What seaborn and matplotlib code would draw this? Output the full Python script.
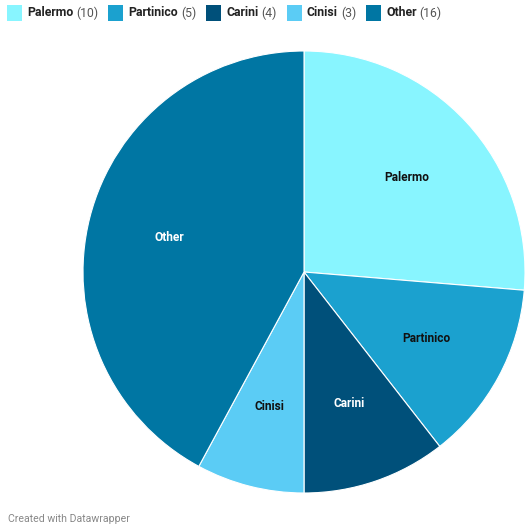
import matplotlib
matplotlib.use("Agg")
import matplotlib.pyplot as plt
from matplotlib.patches import Rectangle
import seaborn as sns

categories = ["Palermo", "Partinico", "Carini", "Cinisi", "Other"]
counts = [10, 5, 4, 3, 16]
colors = ["#88F5FF", "#1BA1CF", "#00507A", "#5BCCF5", "#0076A3"]
label_colors = ["#111111", "#111111", "#ffffff", "#111111", "#ffffff"]

sns.set_style("white")
plt.rcParams["font.family"] = ["Roboto", "DejaVu Sans"]

W, H = 525, 528
fig = plt.figure(figsize=(W / 100, H / 100), dpi=100)
palette = sns.color_palette(colors)

# pie area: centre (304, 272) px from top-left, radius 221 px
cx, cy, r = 304, 272, 221
ax = fig.add_axes([(cx - r) / W, (H - cy - r) / H, 2 * r / W, 2 * r / H])
wedges, texts = ax.pie(
    counts, colors=palette, startangle=90, counterclock=False,
    labels=categories, labeldistance=0.63,
    wedgeprops=dict(edgecolor="white", linewidth=0.8),
    textprops=dict(fontsize=8.6, fontweight="bold", ha="center", va="center"),
)
for t, c in zip(texts, label_colors):
    t.set_color(c)
    t.set_horizontalalignment("center")
ax.set_aspect("equal")
ax.set_xlim(-1, 1)
ax.set_ylim(-1, 1)
ax.axis("off")

# legend row across the top
fig.canvas.draw()
renderer = fig.canvas.get_renderer()
x = 7
y_mid = H - 13
for name, n, col in zip(categories, counts, colors):
    fig.patches.append(Rectangle((x / W, (y_mid - 7.5) / H), 15 / W, 15 / H,
                                 transform=fig.transFigure, facecolor=col,
                                 edgecolor="none"))
    x += 20
    t1 = fig.text(x / W, y_mid / H, name, fontsize=8.8, fontweight="bold",
                  color="#222222", va="center", ha="left")
    bb = t1.get_window_extent(renderer)
    x = bb.x1 + 3
    t2 = fig.text(x / W, y_mid / H, f"({n})", fontsize=8.8, color="#555555",
                  va="center", ha="left")
    bb = t2.get_window_extent(renderer)
    x = bb.x1 + 10

fig.text(8 / W, (H - 519) / H, "Created with Datawrapper", fontsize=7.6,
         color="#888888", va="center", ha="left")

fig.savefig("out.png", dpi=100, facecolor="white")
